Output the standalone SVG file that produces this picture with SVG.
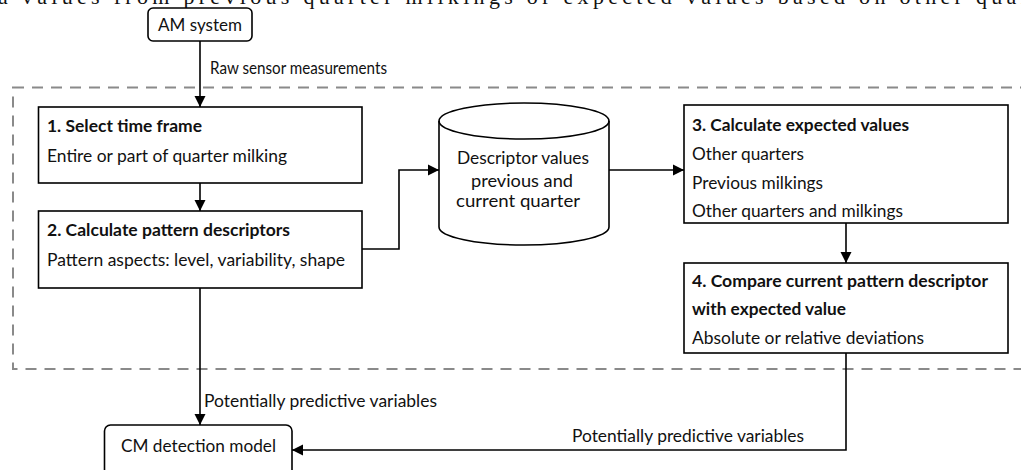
<svg xmlns="http://www.w3.org/2000/svg" width="1021" height="470" viewBox="0 0 1021 470">
<style>
text{font-family:Lato,"Liberation Sans",sans-serif;font-size:17.5px;fill:#111}
.b{font-weight:bold}
.box{fill:#fff;stroke:#000;stroke-width:1.6}
.term{fill:#fff;stroke:#000;stroke-width:1.6}
.con{fill:none;stroke:#000;stroke-width:1.6}
.dash{fill:none;stroke:#8a8a8a;stroke-width:2;stroke-dasharray:11 8}
.page{font-family:"Liberation Serif",serif;font-size:22px}
</style>
<defs>
<marker id="ah" markerUnits="userSpaceOnUse" markerWidth="12" markerHeight="12" viewBox="0 0 12 12" refX="11" refY="6" orient="auto">
<path d="M0,0.5 L11,6 L0,11.5 Z" fill="#000"/>
</marker>
</defs>
<rect width="1021" height="470" fill="#fff"/>
<text class="page" x="-2" y="4" textLength="1030" lengthAdjust="spacing">a values from previous quarter milkings or expected values based on other quar</text>
<rect class="dash" x="13" y="87.5" width="1030" height="281.5"/>
<g id="connectors">
<path class="con" d="M200,41 V107" marker-end="url(#ah)"/>
<path class="con" d="M200,183 V211" marker-end="url(#ah)"/>
<path class="con" d="M362,249 H399 V170 H439" marker-end="url(#ah)"/>
<path class="con" d="M609,170 H684" marker-end="url(#ah)"/>
<path class="con" d="M846,223 V263" marker-end="url(#ah)"/>
<path class="con" d="M200,288 V425" marker-end="url(#ah)"/>
<path class="con" d="M846,353 V450 H292" marker-end="url(#ah)"/>
<text x="210" y="74" textLength="177" lengthAdjust="spacingAndGlyphs">Raw sensor measurements</text>
<text x="204" y="407" textLength="233" lengthAdjust="spacingAndGlyphs">Potentially predictive variables</text>
<text x="572" y="442" textLength="232" lengthAdjust="spacingAndGlyphs">Potentially predictive variables</text>
</g>
<g id="am-system">
<rect class="term" x="148" y="8" width="104" height="33" rx="5"/>
<text x="200" y="30.5" text-anchor="middle" textLength="84" lengthAdjust="spacingAndGlyphs">AM system</text>
</g>
<g id="step1">
<rect class="box" x="38.5" y="107" width="323.5" height="76"/>
<text class="b" x="47" y="132" textLength="155" lengthAdjust="spacingAndGlyphs">1. Select time frame</text>
<text x="47" y="162" textLength="240" lengthAdjust="spacingAndGlyphs">Entire or part of quarter milking</text>
</g>
<g id="step2">
<rect class="box" x="38.5" y="211" width="323.5" height="77"/>
<text class="b" x="47" y="235.5" textLength="243" lengthAdjust="spacingAndGlyphs">2. Calculate pattern descriptors</text>
<text x="47" y="266" textLength="298" lengthAdjust="spacingAndGlyphs">Pattern aspects: level, variability, shape</text>
</g>
<g id="descriptor-store">
<path class="box" d="M439,121 A85,18 0 0,1 609,121 L609,227 A85,18 0 0,1 439,227 Z"/>
<path class="con" d="M439,121 A85,18 0 0,0 609,121"/>
<text x="523" y="164" text-anchor="middle" textLength="132" lengthAdjust="spacingAndGlyphs">Descriptor values</text>
<text x="522" y="187" text-anchor="middle" textLength="102" lengthAdjust="spacingAndGlyphs">previous and</text>
<text x="518" y="207" text-anchor="middle" textLength="124" lengthAdjust="spacingAndGlyphs">current quarter</text>
</g>
<g id="step3">
<rect class="box" x="684" y="105" width="324" height="118"/>
<text class="b" x="692" y="130.5" textLength="217" lengthAdjust="spacingAndGlyphs">3. Calculate expected values</text>
<text x="692" y="160" textLength="112" lengthAdjust="spacingAndGlyphs">Other quarters</text>
<text x="692" y="189" textLength="131" lengthAdjust="spacingAndGlyphs">Previous milkings</text>
<text x="692" y="217" textLength="211" lengthAdjust="spacingAndGlyphs">Other quarters and milkings</text>
</g>
<g id="step4">
<rect class="box" x="684" y="263" width="324" height="90"/>
<text class="b" x="692" y="286.5" textLength="296" lengthAdjust="spacingAndGlyphs">4. Compare current pattern descriptor</text>
<text class="b" x="692" y="315" textLength="154" lengthAdjust="spacingAndGlyphs">with expected value</text>
<text x="692" y="344" textLength="232" lengthAdjust="spacingAndGlyphs">Absolute or relative deviations</text>
</g>
<g id="cm-model">
<rect class="term" x="104.5" y="425" width="187.5" height="60" rx="6"/>
<text x="198.5" y="452" text-anchor="middle" textLength="155" lengthAdjust="spacingAndGlyphs">CM detection model</text>
</g>
</svg>
